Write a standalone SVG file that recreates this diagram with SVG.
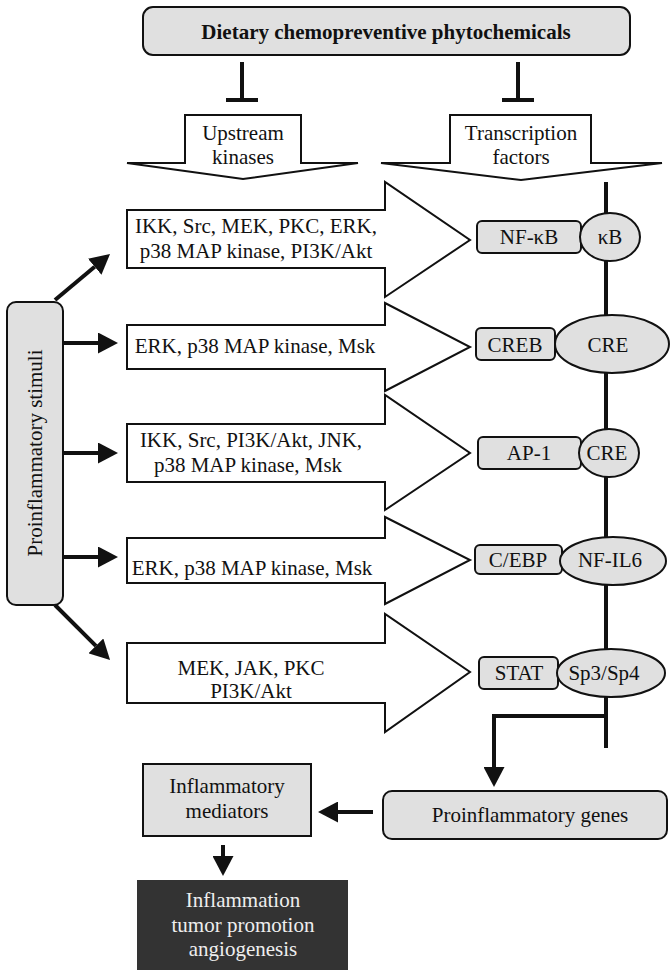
<svg xmlns="http://www.w3.org/2000/svg" width="671" height="970" viewBox="0 0 671 970">
<style>
text{font-family:"Liberation Serif","Times New Roman",serif;font-size:21px;fill:#111;text-anchor:middle}
.gray{fill:#e0e0e0;stroke:#111;stroke-width:2}
.blk{fill:#fff;stroke:#111;stroke-width:2;stroke-linejoin:miter}
.thick{stroke:#111;stroke-width:4;fill:none}
.arr{stroke:#111;stroke-width:4;fill:none;marker-end:url(#ah)}
</style>
<defs>
<marker id="ah" viewBox="0 0 20 21" refX="0" refY="10.5" markerWidth="20" markerHeight="21" orient="auto" markerUnits="userSpaceOnUse">
<path d="M0,0 L20,10.5 L0,21 z" fill="#111"/>
</marker>
</defs>
<rect width="671" height="970" fill="#fff"/>

<g id="connectors">
<line class="thick" x1="606" y1="182" x2="606" y2="748"/>
<line class="thick" x1="242" y1="62" x2="242" y2="100"/>
<line class="thick" x1="226" y1="100" x2="258" y2="100"/>
<line class="thick" x1="518" y1="62" x2="518" y2="100"/>
<line class="thick" x1="502" y1="100" x2="534" y2="100"/>
<line class="arr" x1="55" y1="300" x2="94.7" y2="266.8"/>
<line class="arr" x1="63" y1="343" x2="98" y2="343"/>
<line class="arr" x1="63" y1="453" x2="98" y2="453"/>
<line class="arr" x1="63" y1="557" x2="98" y2="557"/>
<line class="arr" x1="55" y1="605" x2="95.9" y2="645.9"/>
<polyline class="arr" points="606,716 494,716 494,767"/>
<line class="arr" x1="373" y1="812" x2="338" y2="812"/>
<line class="arr" x1="223" y1="845" x2="223" y2="856"/>
</g>

<g id="title">
<rect class="gray" x="143" y="7" width="487" height="48" rx="10" fill="#e6e6e6"/>
<text x="386" y="39" font-weight="bold">Dietary chemopreventive phytochemicals</text>
</g>

<g id="upstream">
<polygon class="blk" points="185,115 301,115 301,163 358,163 243,179 127,163 185,163"/>
<text x="243" y="140">Upstream</text>
<text x="243" y="164">kinases</text>
</g>

<g id="tf">
<polygon class="blk" points="450,115 591,115 591,163 662,163 521,180 381,163 450,163"/>
<text x="521" y="140">Transcription</text>
<text x="521" y="164">factors</text>
</g>

<g id="stimuli">
<rect class="gray" x="7" y="302" width="56" height="303" rx="9"/>
<text transform="translate(42,453) rotate(-90)">Proinflammatory stimuli</text>
</g>

<g id="kin1">
<polygon class="blk" points="127,210 385,210 385,182 470,240 385,297 385,268 127,268"/>
<text x="256" y="233">IKK, Src, MEK, PKC, ERK,</text>
<text x="256" y="258">p38 MAP kinase, PI3K/Akt</text>
</g>
<g id="kin2">
<polygon class="blk" points="127,325 385,325 385,303 470,347 385,391 385,369 127,369"/>
<text x="255" y="353">ERK, p38 MAP kinase, Msk</text>
</g>
<g id="kin3">
<polygon class="blk" points="127,424 385,424 385,395 470,453 385,510 385,482 127,482"/>
<text x="251" y="447">IKK, Src, PI3K/Akt, JNK,</text>
<text x="248" y="472">p38 MAP kinase, Msk</text>
</g>
<g id="kin4">
<polygon class="blk" points="127,538 385,538 385,517 470,560 385,604 385,583 127,583"/>
<text x="252" y="575">ERK, p38 MAP kinase, Msk</text>
</g>
<g id="kin5">
<polygon class="blk" points="127,643 385,643 385,614 470,672 385,732 385,703 127,703"/>
<text x="251" y="675">MEK, JAK, PKC</text>
<text x="251" y="698">PI3K/Akt</text>
</g>

<g id="nfkb">
<rect class="gray" x="477" y="221" width="104" height="32" rx="5"/>
<ellipse class="gray" cx="610" cy="237" rx="30" ry="24"/>
<text x="529" y="244">NF-κB</text>
<text x="610" y="244">κB</text>
</g>
<g id="creb">
<rect class="gray" x="476" y="328" width="79" height="32" rx="5"/>
<ellipse class="gray" cx="612" cy="344" rx="57" ry="29"/>
<text x="515" y="352">CREB</text>
<text x="608" y="352">CRE</text>
</g>
<g id="ap1">
<rect class="gray" x="478" y="437" width="103" height="32" rx="5"/>
<ellipse class="gray" cx="609" cy="453" rx="30" ry="24"/>
<text x="529" y="460">AP-1</text>
<text x="607" y="460">CRE</text>
</g>
<g id="cebp">
<rect class="gray" x="475" y="545" width="87" height="29" rx="5"/>
<ellipse class="gray" cx="613" cy="561" rx="53" ry="24"/>
<text x="518" y="567">C/EBP</text>
<text x="610" y="567">NF-IL6</text>
</g>
<g id="stat">
<rect class="gray" x="479" y="657" width="79" height="32" rx="5"/>
<ellipse class="gray" cx="611" cy="673" rx="54" ry="24"/>
<text x="519" y="680">STAT</text>
<text x="604" y="680">Sp3/Sp4</text>
</g>

<g id="genes">
<rect class="gray" x="383" y="791" width="284" height="48" rx="9"/>
<text x="530" y="822">Proinflammatory genes</text>
</g>

<g id="mediators">
<rect class="gray" x="143" y="764" width="168" height="72"/>
<text x="227" y="793">Inflammatory</text>
<text x="227" y="818">mediators</text>
</g>

<g id="outcome">
<rect x="137" y="880" width="211" height="90" fill="#333"/>
<text x="243" y="907" fill="#eee" style="fill:#eee">Inflammation</text>
<text x="243" y="932" style="fill:#eee">tumor promotion</text>
<text x="243" y="956" style="fill:#eee">angiogenesis</text>
</g>
</svg>
